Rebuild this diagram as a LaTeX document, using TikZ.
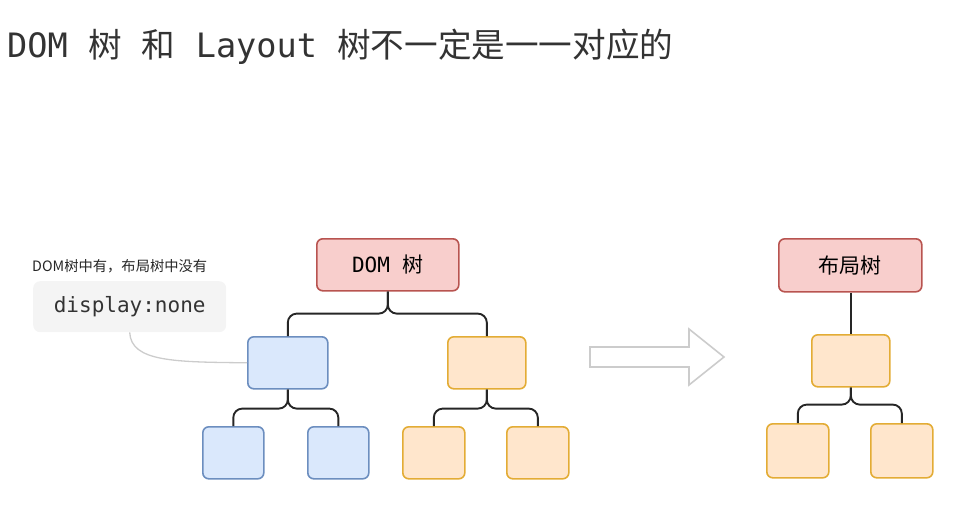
\documentclass[tikz,border=0pt]{standalone}
\usepackage{fontspec}
\setmonofont{DejaVu Sans Mono}
\newfontfamily\cjk{Noto Sans CJK SC}
\definecolor{redfill}{HTML}{F8CECC}
\definecolor{redline}{HTML}{B85450}
\definecolor{bluefill}{HTML}{DAE8FC}
\definecolor{blueline}{HTML}{6C8EBF}
\definecolor{orgfill}{HTML}{FFE6CC}
\definecolor{orgline}{HTML}{E3AC35}
\definecolor{txt}{HTML}{333333}
\definecolor{codebg}{HTML}{F4F4F4}
\definecolor{soft}{HTML}{CCCCCC}
\tikzset{
  box/.style={draw, line width=1.6pt, rounded corners=6pt, inner sep=0pt, anchor=north west},
  rootbox/.style={box, fill=redfill, draw=redline, text=black},
  bluebox/.style={box, fill=bluefill, draw=blueline},
  orgbox/.style={box, fill=orgfill, draw=orgline},
  link/.style={draw=black!85, line width=1.9pt, rounded corners=9pt},
}
\begin{document}
\begin{tikzpicture}[x=1pt,y=-1pt]
\useasboundingbox (0,0) rectangle (973,516);
% title
\node[anchor=base west, inner sep=0pt, text=txt, font=\fontsize{33.6}{33.6}\selectfont\ttfamily] (title) at (7,58)
  {DOM\ {\cjk 树}\ {\cjk 和}\ Layout\ {\cjk 树不一定是一一对应的}};
% note
\node[anchor=base west, inner sep=0pt, text=black!85, font=\fontsize{14.3}{14.3}\selectfont\cjk] (note) at (32,271)
  {DOM树中有，布局树中没有};
\node[anchor=north west, fill=codebg, rounded corners=7pt, minimum width=193pt, minimum height=51pt, inner sep=0pt,
  text=txt, font=\fontsize{21}{21}\selectfont\ttfamily] (disp) at (33,281) {display:none};
% left tree
\node[rootbox, minimum width=142pt, minimum height=52pt, font=\fontsize{21}{21}\selectfont\ttfamily] (dom) at (316,238) {DOM\ {\cjk 树}};
\node[bluebox, minimum width=80pt, minimum height=52pt] (b1) at (247,336) {};
\node[orgbox, minimum width=78pt, minimum height=52pt] (o1) at (447,336) {};
\node[bluebox, minimum width=61pt, minimum height=52pt] (b2) at (202,426) {};
\node[bluebox, minimum width=61pt, minimum height=52pt] (b3) at (307,426) {};
\node[orgbox, minimum width=62pt, minimum height=52pt] (o2) at (402,426) {};
\node[orgbox, minimum width=62pt, minimum height=52pt] (o3) at (506,426) {};
\draw[link] (dom.south) -- ++(0,22) -| (b1.north);
\draw[link] (dom.south) -- ++(0,22) -| (o1.north);
\draw[link] (b1.south) -- ++(0,19) -| (b2.north);
\draw[link] (b1.south) -- ++(0,19) -| (b3.north);
\draw[link] (o1.south) -- ++(0,19) -| (o2.north);
\draw[link] (o1.south) -- ++(0,19) -| (o3.north);
% note connector
\draw[soft, line width=1.3pt] (disp.south) .. controls (131,362) and (175,362) .. (b1.west);
% arrow
\draw[soft, line width=1.6pt, fill=white, line join=miter] (590,347) -- (689,347) -- (689,329) -- (724,357) -- (689,385) -- (689,367) -- (590,367) -- cycle;
% right tree
\node[rootbox, minimum width=143pt, minimum height=53pt, font=\fontsize{21}{21}\selectfont\cjk] (lay) at (778,238) {布局树};
\node[orgbox, minimum width=78pt, minimum height=52pt] (r1) at (811,334) {};
\node[orgbox, minimum width=62pt, minimum height=54pt] (r2) at (766,423) {};
\node[orgbox, minimum width=62pt, minimum height=54pt] (r3) at (870,423) {};
\draw[link] (r1.north |- lay.south) -- (r1.north);
\draw[link] (r1.south) -- ++(0,17) -| (r2.north);
\draw[link] (r1.south) -- ++(0,17) -| (r3.north);
\end{tikzpicture}
\end{document}
